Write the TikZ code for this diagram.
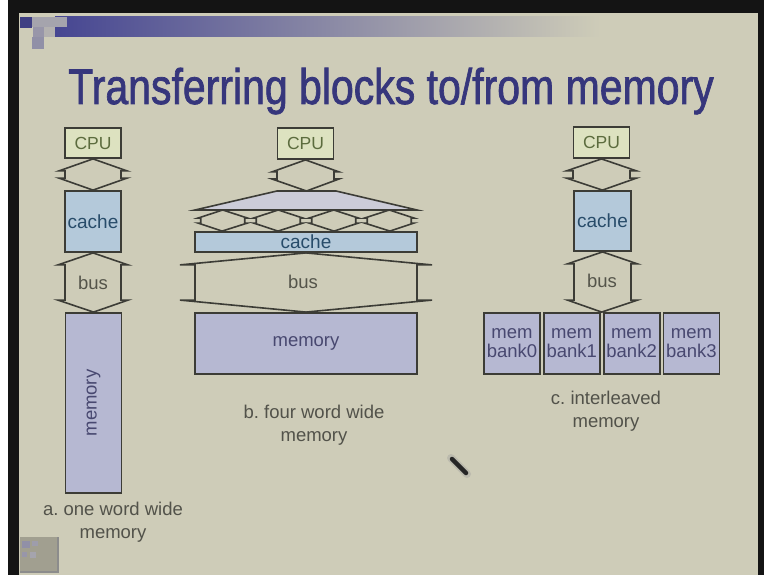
\documentclass[tikz,border=0pt]{standalone}
\usepackage{fontspec}
\setmainfont{Liberation Sans}
\newfontfamily\titlefont{Liberation Sans}[BoldFont={Liberation Sans}, BoldFeatures={FakeBold=1.6}]
\usetikzlibrary{calc}
\frenchspacing

\definecolor{slidebg}{RGB}{206,204,184}
\definecolor{edge}{RGB}{60,60,54}
\definecolor{titleblue}{RGB}{54,54,124}
\definecolor{barblue}{RGB}{70,70,146}
\definecolor{cpufill}{RGB}{221,226,192}
\definecolor{cputext}{RGB}{92,108,62}
\definecolor{cachefill}{RGB}{180,201,218}
\definecolor{cachetext}{RGB}{40,76,106}
\definecolor{memfill}{RGB}{182,184,210}
\definecolor{memtext}{RGB}{72,72,112}
\definecolor{fanfill}{RGB}{204,204,216}
\definecolor{captext}{RGB}{82,82,74}
\definecolor{bustext}{RGB}{84,84,74}

% font size / baseline skip in one go
\newcommand\fsz[2]{\fontsize{#1}{#2}\selectfont}

% up-down double arrow between two points:
% #1 upper point, #2 lower point, #3 half width of heads, #4 half width of shaft, #5 head height
\newcommand\udlink[5]{%
  \draw[link] let \p1=(#1), \p2=(#2) in
    (\p1) -- (\x1+#3pt,\y1-#5pt) -- (\x1+#4pt,\y1-#5pt)
    -- (\x1+#4pt,\y2+#5pt) -- (\x1+#3pt,\y2+#5pt) -- (\p2)
    -- (\x1-#3pt,\y2+#5pt) -- (\x1-#4pt,\y2+#5pt)
    -- (\x1-#4pt,\y1-#5pt) -- (\x1-#3pt,\y1-#5pt) -- cycle;}

\tikzset{
  box/.style={draw=edge, line width=1.8pt, inner sep=0pt, align=center},
  cpubox/.style={box, fill=cpufill, text=cputext, minimum width=56pt,
    minimum height=30pt, font=\fsz{17.5}{20}},
  cachebox/.style={box, fill=cachefill, text=cachetext, font=\fsz{19}{21}},
  membox/.style={box, fill=memfill, text=memtext, font=\fsz{18.5}{20}},
  bankbox/.style={membox, minimum width=56pt, minimum height=61pt,
    font=\fsz{18.5}{19}},
  link/.style={draw=edge, line width=1.6pt, fill=slidebg, line join=miter},
  buslabel/.style={text=bustext, font=\fsz{18.5}{20}, inner sep=0pt},
  caption/.style={text=captext, font=\fsz{18.5}{23}, align=center, inner sep=0pt},
}

\begin{document}
\begin{tikzpicture}[x=1pt, y=-1pt]
  \useasboundingbox (0,0) rectangle (764,575);

  % photo frame and slide
  \fill[white] (0,0) rectangle (764,575);
  \fill[black!92] (8,0) rectangle (764,575);
  \fill[slidebg] (19,13) rectangle (758,575);

  % header bar with square ornaments
  \shade[left color=barblue, right color=slidebg] (55,17) rectangle (600,37);
  \fill[barblue!90!black] (20,17) rectangle (32,28);
  \fill[barblue!30!slidebg] (32,17) rectangle (67,27);
  \fill[barblue!40!slidebg] (33,27) rectangle (44,37);
  \fill[barblue!20!slidebg] (44,27) rectangle (55,37);
  \fill[barblue!45!slidebg] (32,37) rectangle (44,49);

  % title
  \node[anchor=base, text=titleblue, inner sep=0pt] (title) at (391,104)
    {\scalebox{0.82}[1]{\titlefont\bfseries\fsz{50}{60}Transferring blocks to/from memory}};

  % ---- a. one word wide memory
  \node[cpubox] (cpuA) at (93,143) {CPU};
  \node[cachebox, minimum width=56pt, minimum height=61pt] (cacheA) at (93,221.5) {cache};
  \node[membox, minimum width=56pt, minimum height=180pt] (memA) at (93.5,403)
    {\rotatebox{90}{memory}};
  \udlink{cpuA.south}{cacheA.north}{34}{28}{12}
  \udlink{cacheA.south}{memA.north}{35}{28}{12}
  \node[buslabel] (busA) at (93,283) {bus};
  \node[caption] (capA) at (113,522) {a. one word wide\\memory};

  % ---- b. four word wide memory
  \node[cpubox, minimum height=31pt] (cpuB) at (305.5,143.5) {CPU};
  \coordinate (fanTL) at (277,191);
  \coordinate (fanTR) at (336,191);
  \coordinate (fanBR) at (417,210);
  \coordinate (fanBL) at (195,210);
  \draw[link, fill=fanfill] (fanTL) -- (fanTR) -- (fanBR) -- (fanBL) -- cycle;
  \coordinate (fanT) at ($(fanTL)!0.5!(fanTR)$);
  \node[cachebox, minimum width=222pt, minimum height=20pt] (cacheB) at (306,242) {cache};
  \node[membox, minimum width=222pt, minimum height=61pt] (memB) at (306,343.5) {memory};
  \udlink{cpuB.south}{fanT}{33.5}{28.5}{12}
  \foreach \i in {1,...,4} {
    \coordinate (fq\i) at ($(fanBL)!{(2*\i-1)/8}!(fanBR)$);
    \coordinate (cq\i) at ($(cacheB.north west)!{(2*\i-1)/8}!(cacheB.north east)$);
    \udlink{fq\i}{cq\i}{24.5}{22}{8}
  }
  \udlink{cacheB.south}{memB.north}{126}{111}{12}
  \node[buslabel] (busB) at (303,282) {bus};
  \node[caption] (capB) at (314,425) {b. four word wide\\memory};

  % ---- c. interleaved memory
  \node[cpubox, minimum height=31pt] (cpuC) at (601.5,142.5) {CPU};
  \node[cachebox, minimum width=57pt, minimum height=60pt] (cacheC) at (602.5,221) {cache};
  \node[bankbox] (bank0) at (512,343.5) {mem\\bank0};
  \node[bankbox] (bank1) at (571.8,343.5) {mem\\bank1};
  \node[bankbox] (bank2) at (631.6,343.5) {mem\\bank2};
  \node[bankbox] (bank3) at (691.4,343.5) {mem\\bank3};
  \coordinate (bj) at ($(bank1.north east)!0.5!(bank2.north west)$);
  \udlink{cpuC.south}{cacheC.north}{35}{28.5}{12}
  \udlink{cacheC.south}{bj}{35}{28.5}{12}
  \node[buslabel] (busC) at (602,281) {bus};
  \node[caption] (capC) at (606,411) {c. interleaved\\memory};

  % pen tip lying on the slide
  \draw[line width=8pt, line cap=round, black!40, opacity=0.35] (451,458) -- (467,474);
  \draw[line width=4.5pt, line cap=round, black!85] (452,459) -- (466,473);

  % slide logo in the corner
  \fill[black!22!slidebg] (20,537) rectangle (58,572);
  \draw[black!45, line width=1.5pt] (20,572) -- (58,572) -- (58,537);
  \fill[barblue!45!slidebg] (22,541) rectangle (30,548);
  \fill[barblue!35!slidebg] (32,541) rectangle (38,546);
  \fill[barblue!40!slidebg] (22,552) rectangle (27,557);
  \fill[barblue!30!slidebg] (30,552) rectangle (36,558);
\end{tikzpicture}
\end{document}
